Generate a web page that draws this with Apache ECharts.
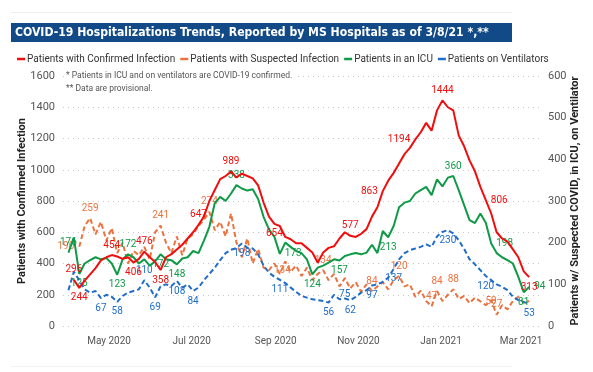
<!DOCTYPE html>
<html><head><meta charset="utf-8">
<script src="https://cdn.jsdelivr.net/npm/echarts@6/dist/echarts.min.js"></script>
<style>html,body{margin:0;padding:0;background:#fff}#c{width:593px;height:372px}</style>
</head><body><div id="c"></div>
<script>
// ---- data (one value every 4 days starting 2020-04-01) ----
const startDate = [2020, 3, 1];
const stepDays = 4;
const confirmed = [null,296,244,290,330,370,420,440,454,445,430,440,406,430,476,440,410,358,440,460,490,520,560,600,647,700,800,870,940,960,989,950,975,960,945,900,790,700,654,640,570,555,530,530,500,470,405,470,500,510,560,600,577,570,590,620,700,760,863,930,980,1040,1100,1140,1194,1240,1300,1250,1380,1444,1400,1380,1220,1150,1060,990,890,806,720,600,560,540,490,440,350,313];
const suspected = [null,null,190,240,259,220,250,205,235,175,200,150,180,170,190,160,225,241,200,175,215,170,210,220,240,255,274,230,250,215,270,200,165,210,150,185,140,134,150,125,155,130,145,120,140,110,125,134,110,125,95,115,90,105,82,100,84,95,105,88,110,120,95,100,70,85,60,47,84,60,75,88,65,72,55,68,59,50,62,27,50,40,60,70,55,60];
const icu = [176,212,125,150,158,165,160,163,150,123,160,172,165,150,160,145,155,172,160,158,148,162,165,180,175,205,238,295,310,300,318,338,330,325,328,305,262,232,214,173,200,190,180,175,160,124,140,145,152,160,157,168,172,175,172,176,195,175,228,213,240,285,296,300,318,326,334,314,352,335,356,360,326,290,254,247,270,248,198,175,165,158,150,118,81,94];
const ventilators = [86,130,110,88,80,84,67,75,70,58,72,80,84,88,110,92,69,95,100,96,108,92,100,84,92,110,125,140,158,175,183,187,198,188,186,172,145,128,118,111,103,92,82,72,68,64,62,60,56,75,64,66,62,70,80,86,97,100,106,116,137,160,175,182,186,190,196,190,215,226,230,222,206,185,160,148,134,120,110,100,94,86,70,62,58,53];
const seriesNames = ['Patients with Confirmed Infection','Patients with Suspected Infection','Patients in an ICU','Patients on Ventilators'];
const leftTicks = [0,200,400,600,800,1000,1200,1400,1600];
const rightTicks = [0,100,200,300,400,500,600];
const xTickDates = ['2020-05-01','2020-07-01','2020-09-01','2020-11-01','2021-01-01','2021-03-01'];
const monthNames = ['Jan','Feb','Mar','Apr','May','Jun','Jul','Aug','Sep','Oct','Nov','Dec'];
// indices of points carrying a data label
const confirmedLabelIdx = [1,2,8,12,14,17,24,30,38,52,58,64,69,77,85];
const suspectedLabelIdx = [2,4,17,26,37,47,56,61,67,68,71,76,79];
const icuLabelIdx = [0,2,9,11,17,20,31,39,45,50,59,71,78,84,85];
const ventLabelIdx = [6,9,14,16,20,23,32,39,48,49,52,56,60,70,77,85];

// ---- label placement (style) ----
const labelPos = {
  red:{1:'top',2:'bottom',8:'top',12:'bottom',14:'top',17:'bottom',24:'top',30:'top',38:'bottom',52:'top',58:'left',64:'left',69:'top',77:'right',85:'bottom'},
  orange:{2:'left',4:'top',17:'top',26:'top',37:'right',47:'top',56:'top',61:'top',67:'top',68:'top',71:'top',76:'right',79:'top'},
  green:{0:'top',2:'bottom',9:'bottom',11:'top',17:'bottom',20:'bottom',31:'top',39:'right',45:'bottom',50:'bottom',59:'bottom',71:'top',78:'right',84:'bottom',85:'right'},
  blue:{6:'bottom',9:'bottom',14:'top',16:'bottom',20:'bottom',23:'bottom',32:'bottom',39:'bottom',48:'bottom',49:'right',52:'bottom',56:'bottom',60:'bottom',70:'bottom',77:'bottom',85:'bottom'}
};

const DAY = 86400000;
const t0 = Date.UTC(startDate[0], startDate[1], startDate[2]);
function build(vals, idxs, posMap){
  return vals.map((v,i)=>{
    const item = {value:[t0 + i*stepDays*DAY, v]};
    if (idxs.indexOf(i) >= 0 && v != null) item.label = {show:true, position: posMap[i] || 'top'};
    return item;
  });
}
function toTs(s){const p=s.split('-');return Date.UTC(+p[0],+p[1]-1,+p[2]);}

// fit title font size to the banner text width
const titleText = 'COVID-19 Hospitalizations Trends, Reported by MS Hospitals as of 3/8/21 *,**';
const titleFamily = '"Liberation Sans Narrow", "DejaVu Sans Condensed", sans-serif';
const mctx = document.createElement('canvas').getContext('2d');
mctx.font = '600 20px ' + titleFamily;
const titleSize = Math.min(17, 20 * 474 / mctx.measureText(titleText).width);

const colors = {red:'#F20D0D', orange:'#EB7340', green:'#0E9A46', blue:'#1F6CCB'};
const lblFont = {fontSize:10, fontFamily:'Roboto, sans-serif'};

const chart = echarts.init(document.getElementById('c'), null, {renderer:'canvas'});
chart.setOption({
  animation:false,
  backgroundColor:'#fff',
  textStyle:{fontFamily:'Roboto, sans-serif'},
  graphic:[
    {type:'rect', shape:{x:11,y:12,width:501,height:1}, style:{fill:'#eeeeee'}},
    {type:'rect', shape:{x:11,y:23,width:501,height:19}, style:{fill:'#114A86'}},
    {type:'text', x:15, y:33, style:{text:titleText, fill:'#fff', font:'600 ' + titleSize.toFixed(2) + 'px ' + titleFamily, verticalAlign:'middle'}},
    {type:'text', x:64, y:76, z:10, style:{text:'* Patients in ICU and on ventilators are COVID-19 confirmed.', fill:'#555', font:'8.5px Roboto, sans-serif', verticalAlign:'middle', backgroundColor:'#fff', padding:[1,2,1,2]}},
    {type:'text', x:64, y:89, z:10, style:{text:'** Data are provisional.', fill:'#555', font:'8.5px Roboto, sans-serif', verticalAlign:'middle', backgroundColor:'#fff', padding:[1,2,1,2]}},
    {type:'rect', shape:{x:11,y:366,width:501,height:1}, style:{fill:'#f2f2f2'}}
  ],
  legend:{
    left:12, top:49, icon:'rect', itemWidth:8, itemHeight:2.5, itemGap:5,
    textStyle:{fontSize:10, color:'#333', padding:[0,0,0,-3]},
    data: seriesNames
  },
  grid:{left:63, right:53, top:76, bottom:46},
  xAxis:{
    type:'value', min:Date.UTC(2020,2,28), max:Date.UTC(2021,2,15),
    axisLine:{show:false}, axisTick:{show:false}, splitLine:{show:false},
    axisLabel:{
      customValues: xTickDates.map(toTs),
      color:'#555', fontSize:10, margin:10,
      formatter:function(v){const d=new Date(v);return monthNames[d.getUTCMonth()]+' '+d.getUTCFullYear();}
    }
  },
  yAxis:[
    {type:'value', min:leftTicks[0], max:leftTicks[leftTicks.length-1], interval:leftTicks[1]-leftTicks[0], position:'left',
     name:seriesNames[0], nameLocation:'middle', nameGap:35, nameMoveOverlap:false,
     nameTextStyle:{fontSize:11, fontWeight:'bold', color:'#222'},
     axisLine:{show:false}, axisTick:{show:false},
     axisLabel:{color:'#555', fontSize:11, margin:8, formatter:function(v){return String(v);}},
     splitLine:{show:true, lineStyle:{color:'#c8c8c8', type:[1,4], width:1}}},
    {type:'value', min:rightTicks[0], max:rightTicks[rightTicks.length-1], interval:rightTicks[1]-rightTicks[0], position:'right',
     name:'Patients w/ Suspected COVID, in ICU, on Ventilator', nameLocation:'middle', nameGap:30, nameMoveOverlap:false,
     nameTextStyle:{fontSize:11, fontWeight:'bold', color:'#222'},
     axisLine:{show:false}, axisTick:{show:false},
     axisLabel:{color:'#555', fontSize:11, margin:8, formatter:function(v){return String(v);}},
     splitLine:{show:false}}
  ],
  series:[
    {name:seriesNames[0], type:'line', yAxisIndex:0, z:6, symbol:'circle', symbolSize:0, showAllSymbol:true,
     itemStyle:{color:colors.red}, lineStyle:{color:colors.red, width:2},
     label:Object.assign({color:colors.red}, lblFont),
     data:build(confirmed, confirmedLabelIdx, labelPos.red)},
    {name:seriesNames[1], type:'line', yAxisIndex:1, z:3, symbol:'circle', symbolSize:0, showAllSymbol:true,
     itemStyle:{color:colors.orange}, lineStyle:{color:colors.orange, width:2, type:[5,3]},
     label:Object.assign({color:colors.orange}, lblFont),
     data:build(suspected, suspectedLabelIdx, labelPos.orange)},
    {name:seriesNames[2], type:'line', yAxisIndex:1, z:5, symbol:'circle', symbolSize:0, showAllSymbol:true,
     itemStyle:{color:colors.green}, lineStyle:{color:colors.green, width:2},
     label:Object.assign({color:colors.green}, lblFont),
     data:build(icu, icuLabelIdx, labelPos.green)},
    {name:seriesNames[3], type:'line', yAxisIndex:1, z:4, symbol:'circle', symbolSize:0, showAllSymbol:true,
     itemStyle:{color:colors.blue}, lineStyle:{color:colors.blue, width:2, type:[5,3]},
     label:Object.assign({color:colors.blue}, lblFont),
     data:build(ventilators, ventLabelIdx, labelPos.blue)}
  ]
});
</script>
</body></html>
